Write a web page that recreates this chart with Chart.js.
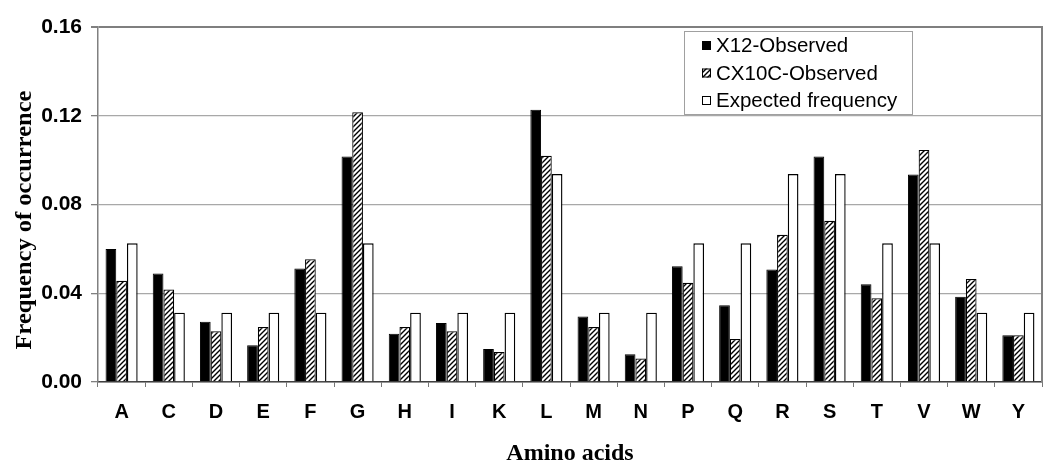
<!DOCTYPE html>
<html><head><meta charset="utf-8">
<script src="https://cdn.jsdelivr.net/npm/chart.js@4.4.0/dist/chart.umd.min.js"></script>
<style>html,body{margin:0;padding:0;background:#fff;}#wrap{width:1050px;height:469px;position:relative;}</style>
</head><body><div id="wrap"><canvas id="c"></canvas></div>
<script>
const categories = ['A','C','D','E','F','G','H','I','K','L','M','N','P','Q','R','S','T','V','W','Y'];
const x12Observed = [0.0600,0.0489,0.0271,0.0166,0.0512,0.1016,0.0218,0.0266,0.0149,0.1227,0.0295,0.0125,0.0522,0.0346,0.0507,0.1016,0.0441,0.0935,0.0384,0.0211];
const cx10cObserved = [0.0456,0.0417,0.0229,0.0248,0.0553,0.1216,0.0248,0.0229,0.0135,0.1020,0.0248,0.0106,0.0447,0.0194,0.0664,0.0727,0.0377,0.1046,0.0464,0.0211];
const expectedFrequency = [0.0625,0.03125,0.03125,0.03125,0.03125,0.0625,0.03125,0.03125,0.03125,0.09375,0.03125,0.03125,0.0625,0.0625,0.09375,0.09375,0.0625,0.0625,0.03125,0.03125];
const yTicks = [0, 0.04, 0.08, 0.12, 0.16];
const seriesNames = ['X12-Observed','CX10C-Observed','Expected frequency'];
const xTitle = 'Amino acids';
const yTitle = 'Frequency of occurrence';

const canvas = document.getElementById('c');
const mainCtx = canvas.getContext('2d');
function makeHatch(){
  const s = 5;
  const t = document.createElement('canvas'); t.width = s; t.height = s;
  const g = t.getContext('2d');
  g.fillStyle = '#fff'; g.fillRect(0,0,s,s);
  g.strokeStyle = '#000'; g.lineWidth = 1.4;
  g.beginPath();
  g.moveTo(-1, s+1); g.lineTo(s+1, -1);
  g.moveTo(-1, 1); g.lineTo(1, -1);
  g.moveTo(s-1, s+1); g.lineTo(s+1, s-1);
  g.stroke();
  return mainCtx.createPattern(t, 'repeat');
}
const hatch = makeHatch();
const fills = ['#000000', hatch, '#ffffff'];

const decorPlugin = {
  id: 'decor',
  afterDraw(chart){
    const ctx = chart.ctx, ca = chart.chartArea;
    ctx.save();
    // right border of plot area
    ctx.strokeStyle = '#808080'; ctx.lineWidth = 2;
    ctx.beginPath(); ctx.moveTo(ca.right, ca.top - 1); ctx.lineTo(ca.right, ca.bottom); ctx.stroke();
    // legend
    const lx = ca.left + 586, ly = ca.top + 4, lw = 228, lh = 83;
    ctx.fillStyle = '#fff'; ctx.fillRect(lx, ly, lw, lh);
    ctx.strokeStyle = '#a0a0a0'; ctx.lineWidth = 1;
    ctx.strokeRect(lx + 0.5, ly + 0.5, lw, lh);
    ctx.font = '20.5px "Liberation Sans", Arial, sans-serif';
    ctx.textBaseline = 'middle'; ctx.textAlign = 'left';
    chart.data.datasets.forEach((ds, i) => {
      const cy = ly + 14.5 + i * 27.5;
      ctx.fillStyle = ds.backgroundColor;
      ctx.fillRect(lx + 18, cy - 4.5, 9, 9);
      ctx.strokeStyle = '#000'; ctx.lineWidth = 1;
      ctx.strokeRect(lx + 18.5, cy - 4, 8, 8);
      ctx.fillStyle = '#000';
      ctx.fillText(ds.label, lx + 32, cy + 1);
    });
    // axis titles
    ctx.fillStyle = '#000';
    ctx.font = 'bold 24px "Liberation Serif", "Times New Roman", serif';
    ctx.textAlign = 'center'; ctx.textBaseline = 'alphabetic';
    ctx.fillText(xTitle, (ca.left + ca.right) / 2, 460);
    ctx.translate(25, 220);
    ctx.rotate(-Math.PI / 2);
    ctx.scale(1.02, 0.92);
    ctx.font = 'bold 24px "Liberation Serif", "Times New Roman", serif';
    ctx.textBaseline = 'middle';
    ctx.fillText(yTitle, 0, 0);
    ctx.restore();
  }
};

new Chart(canvas, {
  type: 'bar',
  data: {
    labels: categories,
    datasets: [
      { label: seriesNames[0], data: x12Observed, backgroundColor: fills[0], borderColor: '#000', borderWidth: 1 },
      { label: seriesNames[1], data: cx10cObserved, backgroundColor: fills[1], borderColor: '#000', borderWidth: 1.2 },
      { label: seriesNames[2], data: expectedFrequency, backgroundColor: fills[2], borderColor: '#000', borderWidth: 1.4 }
    ]
  },
  options: {
    responsive: true, maintainAspectRatio: false, animation: false, devicePixelRatio: 1,
    datasets: { bar: { categoryPercentage: 0.68, barPercentage: 1.0 } },
    layout: { padding: { top: 27, right: 8, left: 0, bottom: 0 } },
    plugins: { legend: { display: false }, tooltip: { enabled: false } },
    scales: {
      x: {
        offset: true,
        grid: { display: true, drawOnChartArea: false, drawTicks: true, tickLength: 5, color: '#777', offset: true },
        border: { display: true, color: '#404040', width: 1.5 },
        ticks: { color: '#000', font: { family: '"Liberation Sans", Arial, sans-serif', weight: 'bold', size: 20 }, padding: 13, maxRotation: 0, autoSkip: false },
        afterFit(s){ s.height = 87; }
      },
      y: {
        min: 0, max: 0.16,
        afterBuildTicks(s){ s.ticks = yTicks.map(v => ({ value: v })); },
        grid: {
          color: c => (c.tick && c.tick.value === 0.16) ? '#7f7f7f' : '#a8a8a8',
          lineWidth: c => (c.tick && c.tick.value === 0.16) ? 2 : 1.3,
          tickLength: 7, tickColor: '#808080'
        },
        border: { display: true, color: '#808080', width: 1.5 },
        ticks: { color: '#000', padding: 9, font: { family: '"Liberation Sans", Arial, sans-serif', weight: 'bold', size: 21 }, callback: v => Number(v).toFixed(2) },
        afterFit(s){ s.width = 98; }
      }
    }
  },
  plugins: [decorPlugin]
});
</script></body></html>
